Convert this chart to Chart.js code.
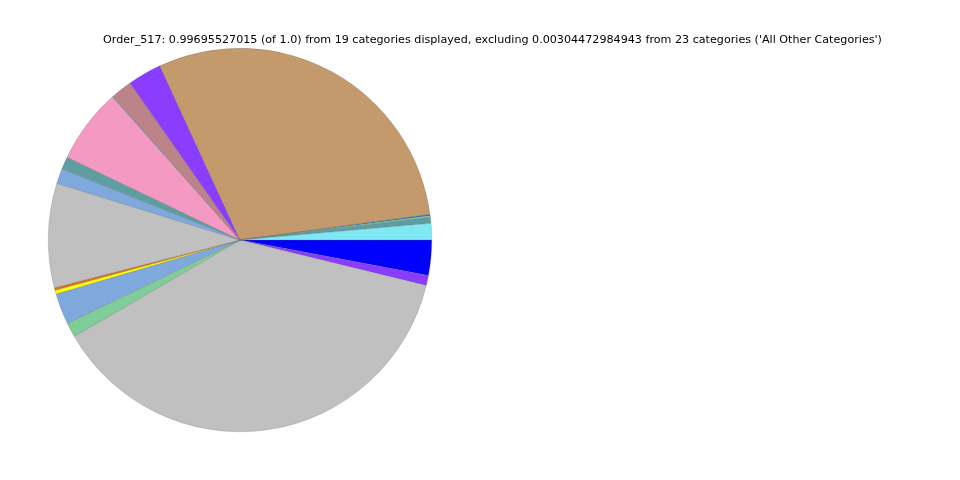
<!DOCTYPE html>
<html>
<head>
<meta charset="utf-8">
<script src="https://cdn.jsdelivr.net/npm/chart.js@4"></script>
<style>
html,body{margin:0;padding:0;background:#fff;}
#wrap{position:relative;width:960px;height:480px;}
</style>
</head>
<body>
<div id="wrap"><canvas id="c" width="960" height="480"></canvas></div>
<script>
// Categories in matplotlib order (counter-clockwise from 3 o'clock)
const categories = ["Cat 1","Cat 2","Cat 3","Cat 4","Cat 5","Cat 6","Cat 7","Cat 8","Cat 9","Cat 10",
  "Cat 11","Cat 12","Cat 13","Cat 14","Cat 15","Cat 16","Cat 17","Cat 18","Cat 19"];
const values = [0.0138,0.0050,0.0014,0.0011,0.2963,0.0285,0.0177,0.0008,0.0629,0.0105,
  0.0127,0.0875,0.0022,0.0033,0.0260,0.0122,0.3769,0.0083,0.0296];
const colors = ["#7fe9f3","#5f9ea0","#80cc9a","#2f7fc0","#c49a6c","#8b3dff","#bc8389","#5f9ea0","#f49ac2","#5f9ea0",
  "#7fa9dd","#c0c0c0","#e0701a","#ffff00","#7fa9dd","#80cc9a","#c0c0c0","#8b3dff","#0000ff"];
const titleText = "Order_517: 0.99695527015 (of 1.0) from 19 categories displayed, excluding 0.00304472984943 from 23 categories ('All Other Categories')";

// Chart.js draws clockwise, so reverse to reproduce counter-clockwise order
const revLabels = categories.slice().reverse();
const revValues = values.slice().reverse();
const revColors = colors.slice().reverse();

const titlePlugin = {
  id: 'customTitle',
  afterDraw(chart) {
    const ctx = chart.ctx;
    ctx.save();
    ctx.font = '11.15px "DejaVu Sans", sans-serif';
    ctx.fillStyle = '#000';
    ctx.textAlign = 'center';
    ctx.textBaseline = 'middle';
    ctx.fillText(titleText, 492.5, 40);
    ctx.restore();
  }
};

new Chart(document.getElementById('c'), {
  type: 'pie',
  data: {
    labels: revLabels,
    datasets: [{
      data: revValues,
      backgroundColor: revColors,
      borderColor: 'rgba(90,90,90,0.45)',
      borderWidth: 0.5
    }]
  },
  options: {
    responsive: false,
    animation: false,
    rotation: 90,
    layout: { padding: { left: 48, right: 528, top: 48, bottom: 48 } },
    plugins: { legend: { display: false }, title: { display: false }, tooltip: { enabled: false } }
  },
  plugins: [titlePlugin]
});
</script>
</body>
</html>
